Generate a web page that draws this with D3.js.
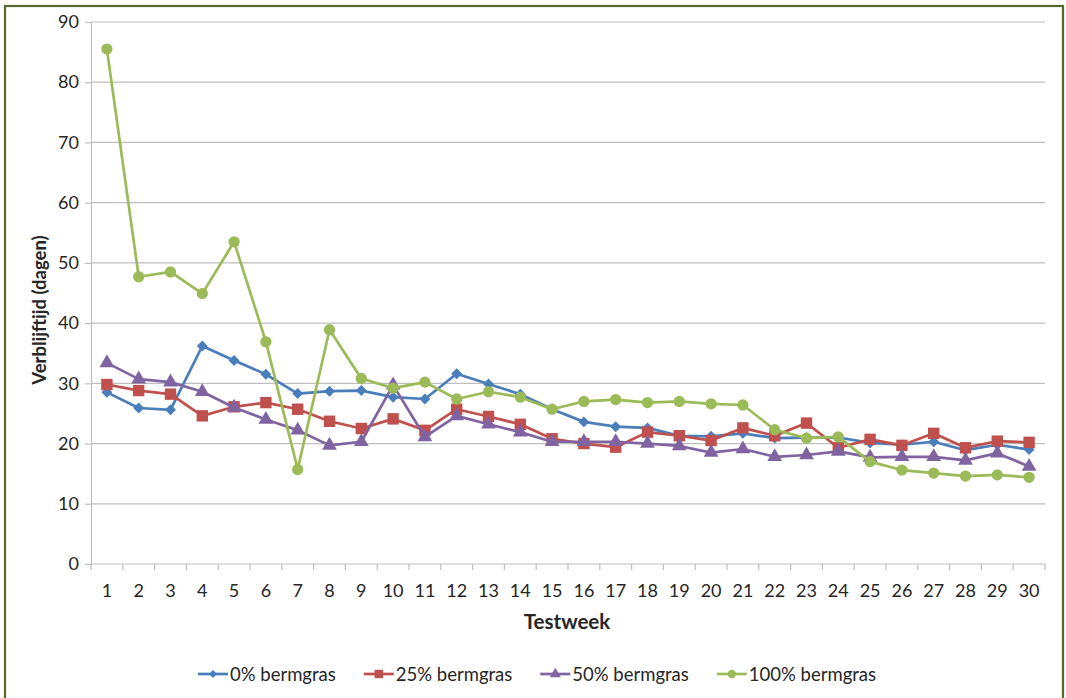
<!DOCTYPE html>
<html>
<head>
<meta charset="utf-8">
<script src="https://cdn.jsdelivr.net/npm/d3@7"></script>
<style>
  html, body { margin: 0; padding: 0; background: #fff; }
  svg { display: block; }
  text { font-family: Lato, "Liberation Sans", sans-serif; fill: #262626; }
</style>
</head>
<body>
<svg id="chart" width="1066" height="698"></svg>
<script>
// Test weeks on the x axis
const weeks = d3.range(1, 31);

// Residence time (days) per test week, one array per grass share
const grass0 = [28.5, 25.9, 25.6, 36.2, 33.8, 31.5, 28.3, 28.7, 28.8, 27.7, 27.4, 31.6, 29.9, 28.2, 25.7, 23.6, 22.8, 22.6, 21.3, 21.2, 21.7, 20.9, 21.0, 21.0, 20.1, 19.8, 20.3, 18.9, 19.8, 19.0];
const grass25 = [29.8, 28.8, 28.2, 24.6, 26.1, 26.8, 25.7, 23.7, 22.5, 24.1, 22.2, 25.7, 24.5, 23.2, 20.8, 20.0, 19.4, 21.9, 21.3, 20.5, 22.6, 21.3, 23.4, 19.3, 20.7, 19.7, 21.7, 19.3, 20.4, 20.2];
const grass50 = [33.4, 30.7, 30.2, 28.6, 26.0, 24.0, 22.2, 19.7, 20.3, 29.7, 21.1, 24.6, 23.2, 21.9, 20.3, 20.3, 20.3, 20.0, 19.6, 18.5, 19.1, 17.8, 18.1, 18.7, 17.7, 17.8, 17.8, 17.2, 18.4, 16.2];
const grass100 = [85.5, 47.7, 48.5, 44.9, 53.5, 36.9, 15.7, 38.9, 30.8, 29.2, 30.2, 27.4, 28.6, 27.7, 25.7, 27.0, 27.3, 26.8, 27.0, 26.6, 26.4, 22.3, 20.9, 21.1, 17.0, 15.6, 15.1, 14.6, 14.8, 14.4];

const seriesNames = ["0% bermgras", "25% bermgras", "50% bermgras", "100% bermgras"];
const seriesColors = ["#4A7EBB", "#C0504D", "#8064A2", "#9BBB59"];
const yTicks = [0, 10, 20, 30, 40, 50, 60, 70, 80, 90];

// Square rotated by 45 degrees, as wide as it is tall
const diamond = {
  draw(ctx, size) {
    const r = Math.sqrt(size / 2);
    ctx.moveTo(0, -r); ctx.lineTo(r, 0); ctx.lineTo(0, r); ctx.lineTo(-r, 0); ctx.closePath();
  }
};
const seriesSymbols = [diamond, d3.symbolSquare, d3.symbolTriangle, d3.symbolCircle];
const seriesSizes = [60, 130, 95, 100];

const series = [grass0, grass25, grass50, grass100].map((vals, i) => ({
  name: seriesNames[i], color: seriesColors[i], symbol: seriesSymbols[i], size: seriesSizes[i],
  points: vals.map((v, j) => ({ week: weeks[j], value: v }))
}));

const svg = d3.select("#chart");

// Outer frame
svg.append("rect")
  .attr("x", 5).attr("y", 6).attr("width", 1058).attr("height", 700)
  .attr("fill", "#fff").attr("stroke", "#56692A").attr("stroke-width", 2.2);

const plot = { left: 91, right: 1045, top: 22, bottom: 564 };

const x = d3.scaleBand().domain(weeks).range([plot.left, plot.right]).padding(0);
const y = d3.scaleLinear().domain([0, 90]).range([plot.bottom, plot.top]);
const cx = d => x(d) + x.bandwidth() / 2;

// Horizontal gridlines
svg.append("g")
  .selectAll("line").data(yTicks.filter(t => t > 0)).join("line")
  .attr("x1", plot.left).attr("x2", plot.right)
  .attr("y1", d => y(d)).attr("y2", d => y(d))
  .attr("stroke", "#BFBFBF").attr("stroke-width", 1.2);

// Y axis
const yAxis = svg.append("g")
  .attr("transform", `translate(${plot.left},0)`)
  .call(d3.axisLeft(y).tickValues(yTicks).tickSize(6).tickPadding(6));
yAxis.select(".domain").attr("stroke", "#BFBFBF").attr("stroke-width", 1.2);
yAxis.selectAll(".tick line").attr("stroke", "#BFBFBF").attr("stroke-width", 1.2);
yAxis.selectAll(".tick text").attr("font-size", 18).attr("fill", "#262626")
  .style("font-family", "Lato, 'Liberation Sans', sans-serif");

// X axis: ticks sit between the weeks
const xAxis = svg.append("g")
  .attr("transform", `translate(0,${plot.bottom})`);
xAxis.append("line")
  .attr("x1", plot.left).attr("x2", plot.right).attr("y1", 0).attr("y2", 0)
  .attr("stroke", "#BFBFBF").attr("stroke-width", 1.2);
xAxis.selectAll("line.tick").data(weeks.concat([31])).join("line")
  .attr("class", "tick")
  .attr("x1", d => plot.left + (d - 1) * x.bandwidth()).attr("x2", d => plot.left + (d - 1) * x.bandwidth())
  .attr("y1", 0).attr("y2", 6)
  .attr("stroke", "#BFBFBF").attr("stroke-width", 1.2);
xAxis.selectAll("text").data(weeks).join("text")
  .attr("x", d => cx(d)).attr("y", 33)
  .attr("text-anchor", "middle").attr("font-size", 18)
  .text(d => d);

// Axis titles
svg.append("text")
  .attr("x", 567).attr("y", 629)
  .attr("text-anchor", "middle").attr("font-size", 20.5).attr("font-weight", "bold")
  .text("Testweek");
svg.append("text")
  .attr("transform", "translate(46,310) rotate(-90)")
  .attr("text-anchor", "middle").attr("font-size", 18.5).attr("font-weight", "bold")
  .text("Verblijftijd (dagen)");

// Lines and markers
const line = d3.line().x(d => cx(d.week)).y(d => y(d.value));
const gSeries = svg.append("g").selectAll("g").data(series).join("g");
gSeries.append("path")
  .attr("d", d => line(d.points))
  .attr("fill", "none").attr("stroke", d => d.color).attr("stroke-width", 2.7)
  .attr("stroke-linejoin", "round");
gSeries.each(function (s) {
  d3.select(this).selectAll("path.marker").data(s.points).join("path")
    .attr("class", "marker")
    .attr("transform", d => `translate(${cx(d.week)},${y(d.value)})`)
    .attr("d", d3.symbol().type(s.symbol).size(s.size))
    .attr("fill", s.color);
});

// Legend
const legend = svg.append("g").attr("transform", "translate(0,674)");
const items = legend.selectAll("g").data(series).join("g");
items.append("line")
  .attr("x1", 0).attr("x2", 30).attr("y1", 0).attr("y2", 0)
  .attr("stroke", d => d.color).attr("stroke-width", 2.7);
items.append("path")
  .attr("transform", "translate(15,0)")
  .attr("d", d => d3.symbol().type(d.symbol).size(d.size * 0.55)())
  .attr("fill", d => d.color);
items.append("text")
  .attr("x", 32).attr("y", 6.5).attr("font-size", 18.5)
  .text(d => d.name);
let widths = [];
items.each(function () { widths.push(this.getBBox().width); });
const gap = 28;
let pos = 198;
items.attr("transform", (d, i) => {
  const t = `translate(${pos},0)`;
  pos += widths[i] + gap;
  return t;
});
</script>
</body>
</html>
